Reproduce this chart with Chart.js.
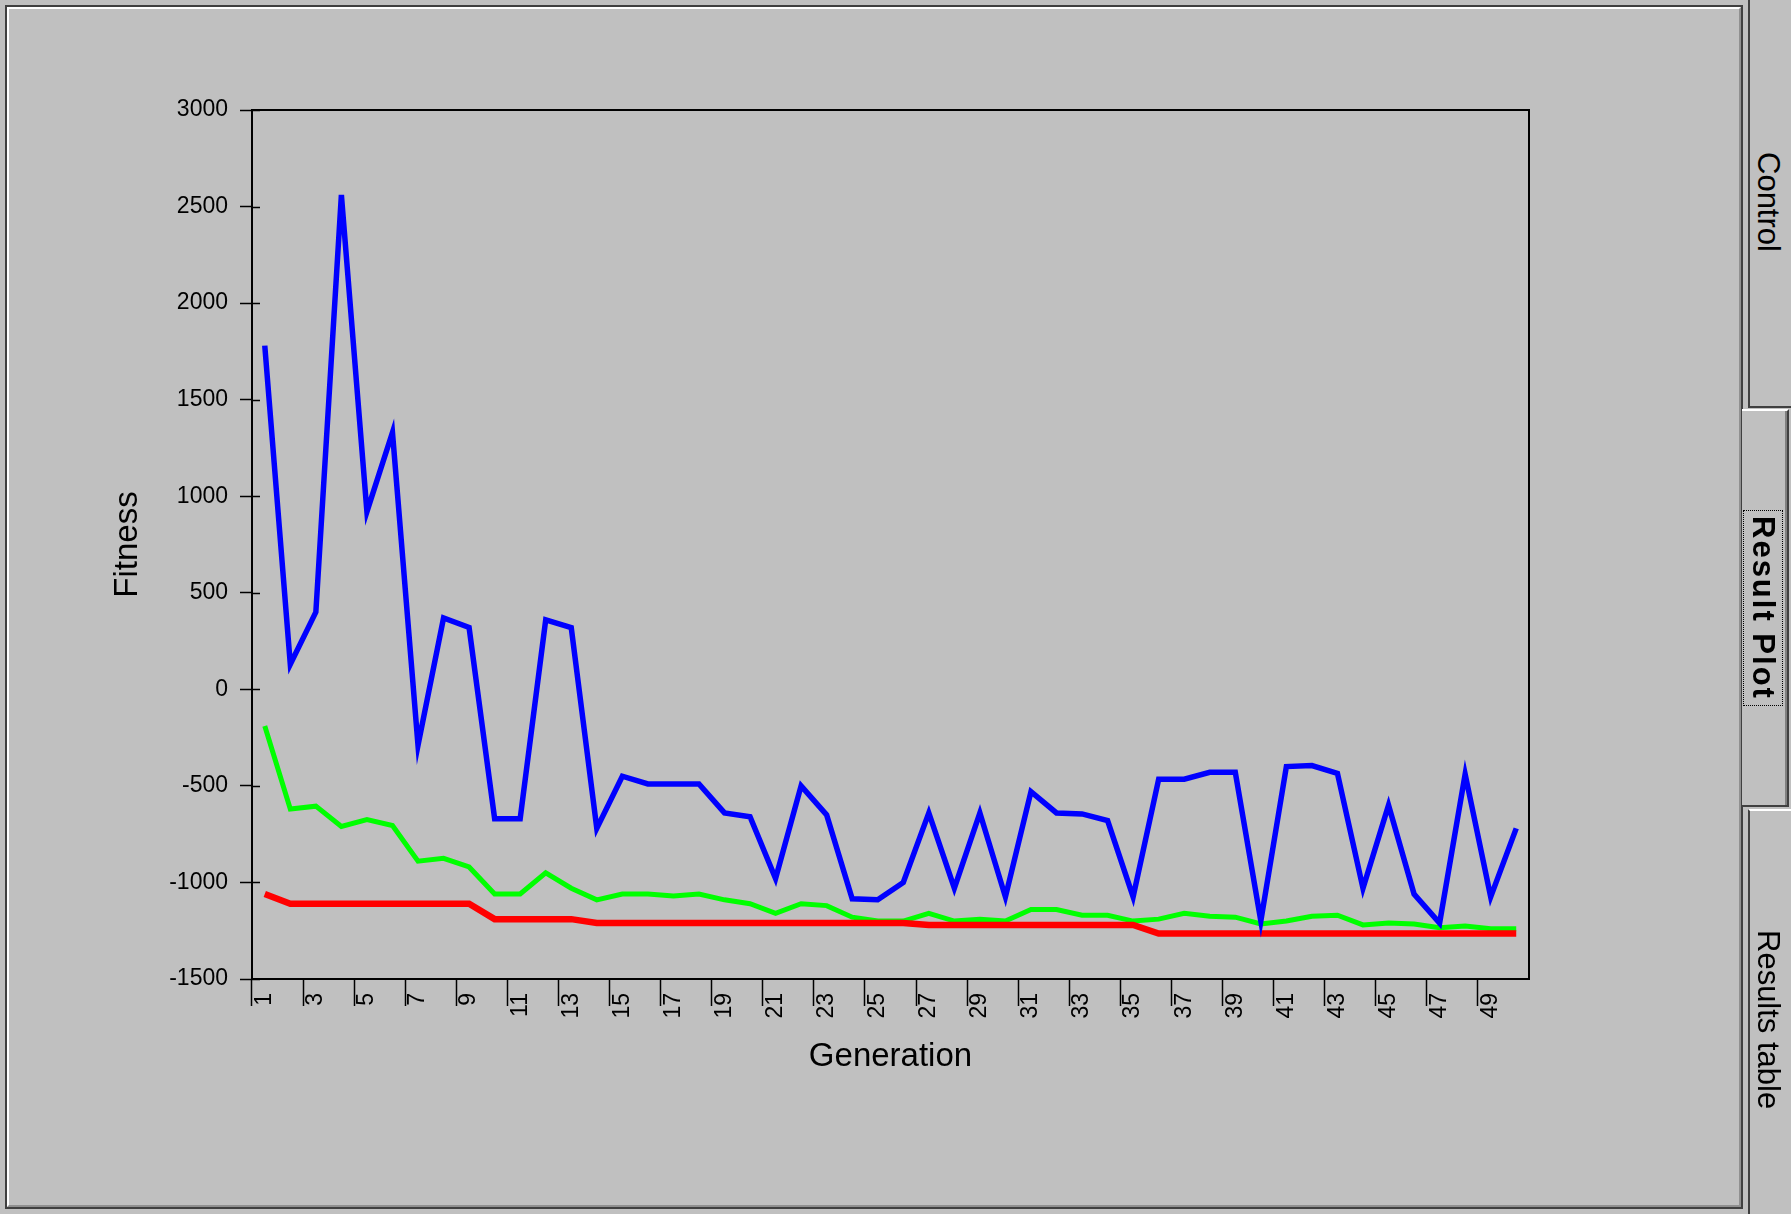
<!DOCTYPE html>
<html>
<head>
<meta charset="utf-8">
<script src="https://cdn.jsdelivr.net/npm/chart.js@4/dist/chart.umd.min.js"></script>
<style>
  html, body { margin: 0; padding: 0; width: 1791px; height: 1214px; overflow: hidden; background: #c0c0c0; font-family: "Liberation Sans", Arial, sans-serif; }
  #panel { position: absolute; left: 5px; top: 5px; width: 1734px; height: 1200px; border: 2px solid #404040; }
  #panel-inner { position: absolute; left: 0; top: 0; right: 0; bottom: 0; border-top: 2px solid #fff; border-left: 2px solid #fff; border-bottom: 2px solid #909090; border-right: 2px solid #909090; }
  #chart-box { position: absolute; left: 0; top: 0; width: 1744px; height: 1214px; }
  .tab { position: absolute; background: #c0c0c0; box-sizing: border-box; display: flex; align-items: center; justify-content: center; }
  .tab span { writing-mode: vertical-rl; font-size: 31px; color: #000; }
  #tab-control { left: 1748px; top: -4px; width: 43px; height: 412px; border-left: 2px solid #404040; border-bottom: 2px solid #404040; border-top: 2px solid #fff; padding-right: 6px; }
  #tab-plot { left: 1742px; top: 409px; width: 47px; height: 398px; border-top: 2px solid #fff; border-bottom: 2px solid #404040; border-right: 2px solid #404040; box-shadow: inset -2px 0 #808080; padding-right: 4px; }
  #tab-plot span { font-weight: bold; font-size: 31px; letter-spacing: 2px; border: 1px dotted #000; padding: 5px 1px; }
  #tab-table { left: 1748px; top: 809px; width: 43px; height: 420px; border-left: 2px solid #404040; border-top: 2px solid #fff; padding-right: 6px; }
</style>
</head>
<body>
<div id="panel"><div id="panel-inner"></div></div>
<div id="chart-box"><canvas id="fitness-chart"></canvas></div>
<div class="tab" id="tab-control"><span>Control</span></div>
<div class="tab" id="tab-plot"><span>Result Plot</span></div>
<div class="tab" id="tab-table"><span>Results table</span></div>
<script>
// generations on the x axis
const generations = ["1","2","3","4","5","6","7","8","9","10",
  "11","12","13","14","15","16","17","18","19","20",
  "21","22","23","24","25","26","27","28","29","30",
  "31","32","33","34","35","36","37","38","39","40",
  "41","42","43","44","45","46","47","48","49","50"];

// blue line (highest fitness in each generation)
const maxFitness = [1780, 130, 400, 2560, 920, 1330, -290, 370, 320, -670,
  -670, 360, 320, -720, -450, -490, -490, -490, -640, -660,
  -980, -500, -650, -1085, -1090, -1000, -640, -1030, -640, -1075,
  -530, -640, -645, -680, -1075, -465, -465, -430, -430, -1200,
  -400, -395, -435, -1030, -600, -1060, -1210, -440, -1075, -720];

// green line (average)
const meanFitness = [-190, -620, -605, -710, -675, -705, -890, -875, -920, -1060,
  -1060, -950, -1030, -1090, -1060, -1060, -1070, -1060, -1090, -1110,
  -1160, -1110, -1120, -1180, -1200, -1200, -1160, -1200, -1190, -1200,
  -1140, -1140, -1170, -1170, -1200, -1190, -1160, -1175, -1180, -1215,
  -1200, -1175, -1170, -1220, -1210, -1215, -1235, -1225, -1240, -1240];

// red line (best so far)
const minFitness = [-1060, -1110, -1110, -1110, -1110, -1110, -1110, -1110, -1110, -1190,
  -1190, -1190, -1190, -1210, -1210, -1210, -1210, -1210, -1210, -1210,
  -1210, -1210, -1210, -1210, -1210, -1210, -1220, -1220, -1220, -1220,
  -1220, -1220, -1220, -1220, -1220, -1265, -1265, -1265, -1265, -1265,
  -1265, -1265, -1265, -1265, -1265, -1265, -1265, -1265, -1265, -1265];

const yTicks = { min: -1500, max: 3000, step: 500 };

// frame on top/right plus the short inner tick marks on the y axis
const plotFrame = {
  id: "plotFrame",
  afterDraw(chart) {
    const { ctx, chartArea: a, scales } = chart;
    ctx.save();
    ctx.strokeStyle = "#000";
    ctx.lineWidth = 2;
    ctx.strokeRect(a.left, a.top, a.right - a.left, a.bottom - a.top);
    ctx.lineWidth = 1.5;
    scales.y.ticks.forEach((t) => {
      const py = Math.round(scales.y.getPixelForValue(t.value)) + 0.5;
      ctx.beginPath();
      ctx.moveTo(a.left, py);
      ctx.lineTo(a.left + 8, py);
      ctx.stroke();
    });
    ctx.restore();
  },
};

new Chart(document.getElementById("fitness-chart"), {
  type: "line",
  data: {
    labels: generations,
    datasets: [
      { label: "max", data: maxFitness, borderColor: "#0000ff", borderWidth: 5.5, order: 0 },
      { label: "best", data: minFitness, borderColor: "#ff0000", borderWidth: 6.5, order: 1 },
      { label: "mean", data: meanFitness, borderColor: "#00ff00", borderWidth: 5, order: 2 },
    ],
  },
  options: {
    responsive: true,
    maintainAspectRatio: false,
    animation: false,
    elements: { point: { radius: 0 }, line: { tension: 0, fill: false } },
    layout: { padding: { left: 0, top: 110, right: 215, bottom: 137 } },
    plugins: { legend: { display: false }, tooltip: { enabled: false } },
    scales: {
      x: {
        type: "category",
        offset: true,
        grid: {
          offset: true,
          drawOnChartArea: false,
          drawTicks: true,
          tickLength: 27,
          tickColor: (c) => (c.index % 2 === 0 ? "#000" : "rgba(0,0,0,0)"),
          tickWidth: 1.5,
        },
        border: { display: true, color: "#000", width: 2 },
        ticks: {
          autoSkip: false,
          minRotation: 90,
          maxRotation: 90,
          padding: -13,
          color: "#000",
          font: { family: "Liberation Sans", size: 23 },
          callback: function (v, i) {
            return i % 2 === 0 ? this.getLabelForValue(v) : "";
          },
        },
        title: {
          display: true,
          text: "Generation",
          color: "#000",
          font: { family: "Liberation Sans", size: 33 },
          padding: { top: 0, bottom: 0 },
        },
        afterFit: (s) => { s.height = 98; },
      },
      y: {
        min: yTicks.min,
        max: yTicks.max,
        grid: { drawOnChartArea: false, drawTicks: true, tickLength: 12, tickColor: "#000", tickWidth: 1.5 },
        border: { display: true, color: "#000", width: 2 },
        ticks: {
          stepSize: yTicks.step,
          padding: 12,
          color: "#000",
          font: { family: "Liberation Sans", size: 23 },
          callback: (v) => String(v),
        },
        title: {
          display: true,
          text: "Fitness",
          color: "#000",
          font: { family: "Liberation Sans", size: 33 },
          padding: { top: 108, bottom: 0 },
        },
        afterFit: (s) => { s.width = 252; },
      },
    },
  },
  plugins: [plotFrame],
});
</script>
</body>
</html>
